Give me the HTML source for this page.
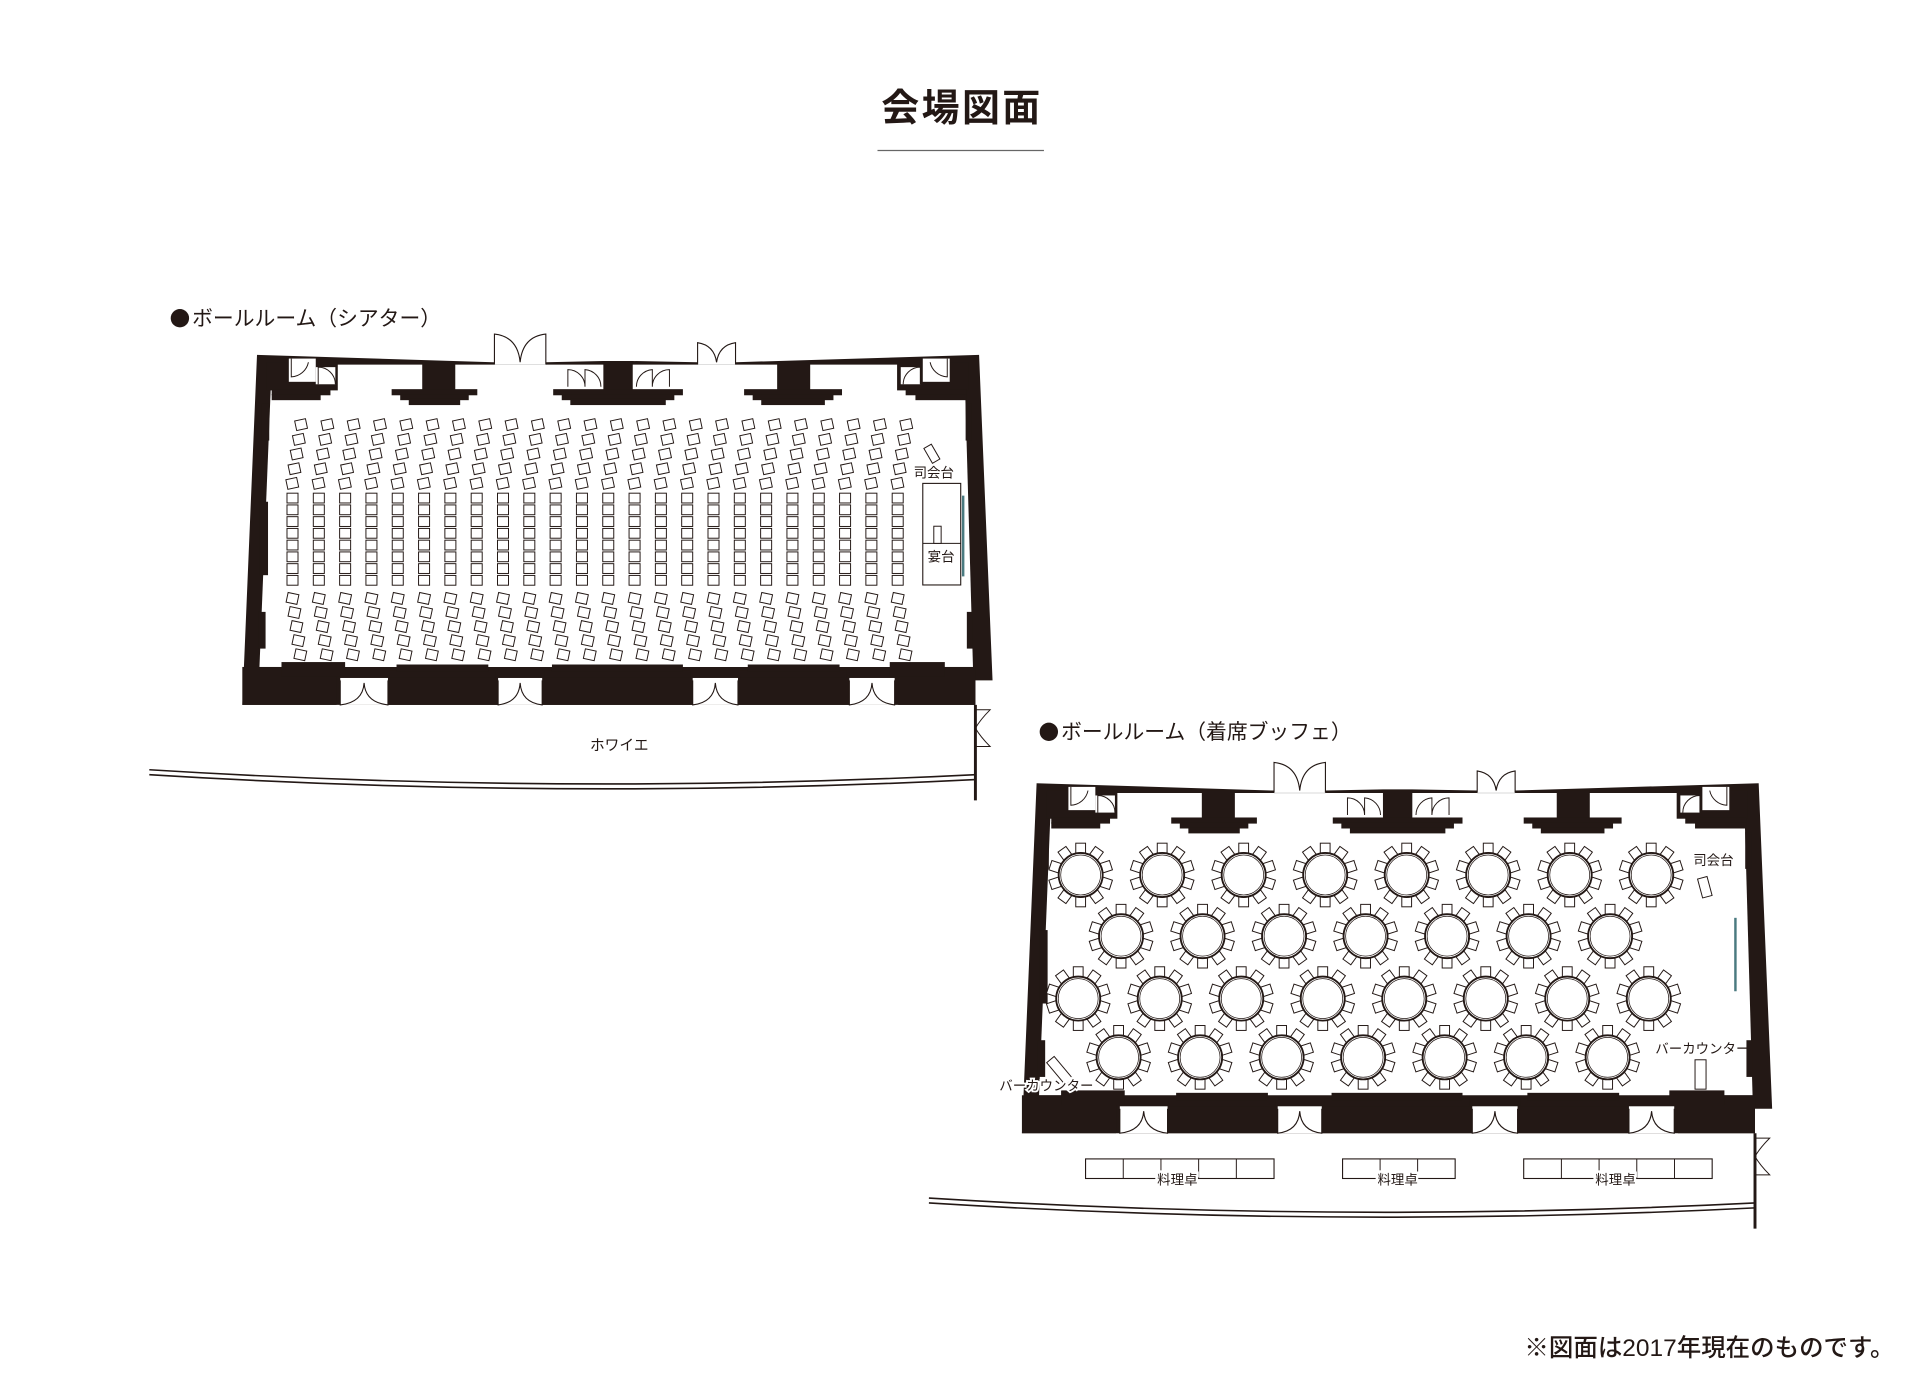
<!DOCTYPE html>
<html><head><meta charset="utf-8"><style>
html,body{margin:0;padding:0;background:#fff;}
svg{display:block;}
text{font-family:"Liberation Sans","Noto Sans CJK JP",sans-serif;fill:#231815;}
</style></head><body>
<svg id="s" width="1919" height="1400" viewBox="0 0 1568 1144" preserveAspectRatio="none" xmlns="http://www.w3.org/2000/svg">
<rect width="1568" height="1144" fill="#fff"/>
<text x="786" y="99" font-size="31" font-weight="bold" text-anchor="middle" letter-spacing="2">会場図面</text>
<line x1="717" y1="123" x2="853" y2="123" stroke="#666" stroke-width="1"/>
<circle cx="147" cy="260" r="7.5" fill="#231815"/>
<text x="157" y="266" font-size="17">ボールルーム（シアター）</text>
<circle cx="857" cy="598" r="7.5" fill="#231815"/>
<text x="867" y="604" font-size="17">ボールルーム（着席ブッフェ）</text>
<g id="r1"></g>
<g id="r2" transform="translate(637,350)"></g>
<g id="extra"></g>
<text x="506" y="613" font-size="12" text-anchor="middle">ホワイエ</text>
<text x="763" y="390" font-size="11" text-anchor="middle">司会台</text>
<text x="769" y="459" font-size="11" text-anchor="middle">宴台</text>
<text x="1400" y="707" font-size="11" text-anchor="middle">司会台</text>
<text x="1391" y="861" font-size="11" text-anchor="middle">バーカウンター</text>
<text x="855" y="891" font-size="11" text-anchor="middle" style="paint-order:stroke" stroke="#fff" stroke-width="3">バーカウンター</text>
<text x="962" y="968" font-size="11" text-anchor="middle" style="paint-order:stroke" stroke="#fff" stroke-width="4">料理卓</text>
<text x="1142" y="968" font-size="11" text-anchor="middle" style="paint-order:stroke" stroke="#fff" stroke-width="4">料理卓</text>
<text x="1320" y="968" font-size="11" text-anchor="middle" style="paint-order:stroke" stroke="#fff" stroke-width="4">料理卓</text>
<text x="1548" y="1108" font-size="20" text-anchor="end" font-weight="500">※図面は2017年現在のものです。</text>
</svg>
<script>
var B='#231815';
function shell(){
 var s='';
 s+='<polygon points="210,290 403,296 446,296 493,295 517,295 570,296 601,296 800,290 811,556 797,556 797,576 198,576" fill="'+B+'"/>';
 s+='<polygon points="222,298 788,298 795,545 212,545" fill="#fff"/>';
 s+='<rect x="214" y="330" width="6" height="30" fill="'+B+'"/><rect x="212" y="410" width="7" height="60" fill="'+B+'"/><rect x="211" y="500" width="6" height="30" fill="'+B+'"/>';
 s+='<rect x="789" y="330" width="5" height="30" fill="'+B+'"/><rect x="790" y="500" width="5" height="30" fill="'+B+'"/>';
 function tp(x1,x2,s1,s2){
  var r='<rect x="'+s1+'" y="296" width="'+(s2-s1)+'" height="23" fill="'+B+'"/>';
  r+='<rect x="'+x1+'" y="318" width="'+(x2-x1)+'" height="5" fill="'+B+'"/>';
  r+='<rect x="'+(x1+7)+'" y="322" width="'+(x2-x1-14)+'" height="5" fill="'+B+'"/>';
  r+='<rect x="'+(x1+14)+'" y="326" width="'+(x2-x1-28)+'" height="5" fill="'+B+'"/>';
  return r;}
 s+=tp(320,390,345,372)+tp(452,558,493,517)+tp(608,688,635,662);
 s+='<rect x="218" y="296" width="58" height="23" fill="'+B+'"/><rect x="222" y="318" width="48" height="5" fill="'+B+'"/><rect x="222" y="322" width="40" height="5" fill="'+B+'"/>';
 s+='<rect x="733" y="296" width="58" height="23" fill="'+B+'"/><rect x="740" y="318" width="50" height="5" fill="'+B+'"/><rect x="748" y="322" width="42" height="5" fill="'+B+'"/>';
 s+='<rect x="236" y="293" width="22" height="19" fill="#fff"/><path d="M238,293 L238,308 A15,15 0 0 0 252,296" fill="none" stroke="'+B+'" stroke-width="0.8"/>';
 s+='<rect x="258" y="300" width="16" height="14" fill="#fff"/><path d="M260,314 L260,300 A14,14 0 0 1 274,314" fill="none" stroke="'+B+'" stroke-width="0.8"/>';
 s+='<rect x="754" y="293" width="22" height="19" fill="#fff"/><path d="M774,293 L774,308 A15,15 0 0 1 760,296" fill="none" stroke="'+B+'" stroke-width="0.8"/>';
 s+='<rect x="736" y="300" width="16" height="14" fill="#fff"/><path d="M752,314 L752,300 A14,14 0 0 0 738,314" fill="none" stroke="'+B+'" stroke-width="0.8"/>';
 function td(x1,x2,yt){
  var m=(x1+x2)/2;var r='<rect x="'+x1+'" y="288" width="'+(x2-x1)+'" height="11" fill="#fff"/>';
  r+='<path d="M'+x1+',298 L'+x1+','+yt+' Q'+(m-2)+','+(yt+2)+' '+m+',296 M'+x2+',298 L'+x2+','+yt+' Q'+(m+2)+','+(yt+2)+' '+m+',296" fill="none" stroke="'+B+'" stroke-width="0.9"/>';
  r+='<line x1="'+x1+'" y1="298" x2="'+x2+'" y2="298" stroke="#ccc" stroke-width="0.6"/>';
  return r;}
 s+=td(404,446,273)+td(570,601,280);
 s+='<rect x="462" y="299" width="30" height="18" fill="#fff"/><path d="M464,316 L464,302 A14,14 0 0 1 478,316 M478,316 L478,302 A14,14 0 0 1 491,316" fill="none" stroke="'+B+'" stroke-width="0.8"/>';
 s+='<rect x="519" y="299" width="30" height="18" fill="#fff"/><path d="M547,316 L547,302 A14,14 0 0 0 533,316 M533,316 L533,302 A14,14 0 0 0 520,316" fill="none" stroke="'+B+'" stroke-width="0.8"/>';
 function bp(x1,x2){
  var r='<rect x="'+x1+'" y="553" width="'+(x2-x1)+'" height="23" fill="'+B+'"/>';
  r+='<rect x="'+(x1+5)+'" y="548" width="'+(x2-x1-10)+'" height="6" fill="'+B+'"/>';
  r+='<rect x="'+(x1+11)+'" y="543" width="'+(x2-x1-22)+'" height="6" fill="'+B+'"/>';
  return r;}
 s+='<rect x="198" y="545" width="77" height="31" fill="'+B+'"/><rect x="230" y="541" width="52" height="12" fill="'+B+'"/>';
 s+=bp(313,410)+bp(440,569)+bp(600,697);
 s+='<rect x="734" y="545" width="63" height="31" fill="'+B+'"/><rect x="727" y="541" width="45" height="12" fill="'+B+'"/>';
 function bd(x1,x2){
  var m=(x1+x2)/2;var r='<rect x="'+x1+'" y="554" width="'+(x2-x1)+'" height="22" fill="#fff"/>';
  r+='<path d="M'+x1+',556 L'+x1+',576 Q'+(m-1)+',574 '+m+',558 M'+x2+',556 L'+x2+',576 Q'+(m+1)+',574 '+m+',558" fill="none" stroke="'+B+'" stroke-width="0.9"/>';
  return r;}
 s+=bd(278,317)+bd(407,443)+bd(566,603)+bd(694,731);
 s+='<path d="M122,629 Q460,650 797,633" fill="none" stroke="'+B+'" stroke-width="1.3"/>';
 s+='<path d="M122,633 Q460,654 797,637" fill="none" stroke="'+B+'" stroke-width="1.3"/>';
 s+='<line x1="797" y1="576" x2="797" y2="654" stroke="'+B+'" stroke-width="2.4"/>';
 s+='<path d="M797,580 L809,580 Q801,588 797,595 M797,610 L809,610 Q801,602 797,595" fill="none" stroke="'+B+'" stroke-width="0.8"/>';
 return s;}
var sh=shell();
document.getElementById('r1').innerHTML=sh;
document.getElementById('r2').innerHTML=sh;
var e='';
function ch(x,y,rot){return '<rect x="'+(x-4.5)+'" y="'+(y-4)+'" width="9" height="8" fill="#fff" stroke="'+B+'" stroke-width="0.8" transform="rotate('+rot+' '+x+' '+y+')"/>';}
for(var c=0;c<24;c++){
 var x=241+c*21.5;
 for(var r=0;r<5;r++){e+=ch(x+5-r*1.8,347+r*12,-12);}
 for(var r=0;r<8;r++){e+=ch(x-2,407+r*9.6,0);}
 for(var r=0;r<5;r++){e+=ch(x-2+r*1.6,489+r*11.5,12);}
}
e+='<rect x="754" y="395" width="31" height="83" fill="#fff" stroke="'+B+'" stroke-width="0.9"/>';
e+='<line x1="754" y1="444" x2="785" y2="444" stroke="'+B+'" stroke-width="0.8"/>';
e+='<rect x="763" y="430" width="6" height="14" fill="#fff" stroke="'+B+'" stroke-width="0.8"/>';
e+='<rect x="758" y="364" width="7" height="14" fill="#fff" stroke="'+B+'" stroke-width="0.8" transform="rotate(-30 761 371)"/>';
e+='<rect x="786" y="405" width="2" height="66" fill="#4a7a80"/>';
function tb(x,y){
 var r='';
 for(var i=0;i<10;i++){var a=i*36;
  r+='<rect x="'+(x-4)+'" y="'+(y-26)+'" width="8" height="8" fill="#fff" stroke="'+B+'" stroke-width="0.8" transform="rotate('+a+' '+x+' '+y+')"/>';}
 r+='<circle cx="'+x+'" cy="'+y+'" r="18" fill="#fff" stroke="'+B+'" stroke-width="1.5"/>';
 r+='<circle cx="'+x+'" cy="'+y+'" r="16.3" fill="none" stroke="'+B+'" stroke-width="0.6"/>';
 return r;}
var rows=[[715,883,8],[765,916,7],[816,881,8],[864,914,7]];
rows.forEach(function(rw){for(var i=0;i<rw[2];i++)e+=tb(rw[1]+i*66.6,rw[0]);});
e+='<rect x="1389" y="717" width="8" height="16" fill="#fff" stroke="'+B+'" stroke-width="0.8" transform="rotate(-15 1393 725)"/>';
e+='<rect x="1385" y="866" width="9" height="24" fill="#fff" stroke="'+B+'" stroke-width="0.8"/>';
e+='<rect x="862" y="863" width="8" height="24" fill="#fff" stroke="'+B+'" stroke-width="0.8" transform="rotate(-40 866 875)"/>';
e+='<rect x="1417" y="750" width="2" height="60" fill="#4a7a80"/>';
function bt(x1,x2,n){var w=(x2-x1)/n;var r='<rect x="'+x1+'" y="947" width="'+(x2-x1)+'" height="16" fill="#fff" stroke="'+B+'" stroke-width="0.9"/>';
 for(var i=1;i<n;i++)r+='<line x1="'+(x1+i*w)+'" y1="947" x2="'+(x1+i*w)+'" y2="963" stroke="'+B+'" stroke-width="0.8"/>';return r;}
e+=bt(887,1041,5)+bt(1097,1189,3)+bt(1245,1399,5);
document.getElementById('extra').innerHTML=e;
</script>
</body></html>
